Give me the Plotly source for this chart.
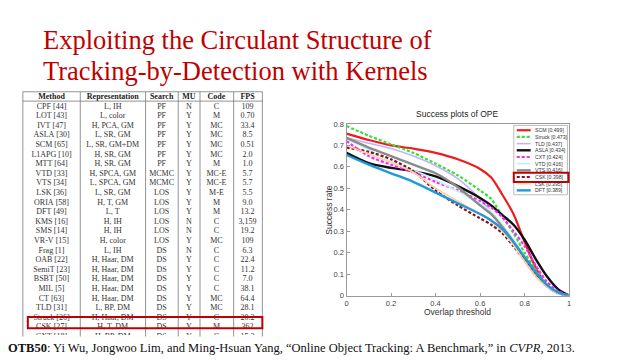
import plotly.graph_objects as go

W, H = 640, 360


def px(x):
    return x / W


def py(y):
    return 1 - y / H


# ---------------- data: table ----------------
headers = ["Method", "Representation", "Search", "MU", "Code", "FPS"]
methods = ["CPF [44]", "LOT [43]", "IVT [47]", "ASLA [30]", "SCM [65]", "L1APG [10]", "MTT [64]",
           "VTD [33]", "VTS [34]", "LSK [36]", "ORIA [58]", "DFT [49]", "KMS [16]", "SMS [14]",
           "VR-V [15]", "Frag [1]", "OAB [22]", "SemiT [23]", "BSBT [50]", "MIL [5]", "CT [63]",
           "TLD [31]", "Struck [26]", "CSK [27]", "CXT [18]"]
representations = ["L, IH", "L, color", "H, PCA, GM", "L, SR, GM", "L, SR, GM+DM", "H, SR, GM",
                   "H, SR, GM", "H, SPCA, GM", "L, SPCA, GM", "L, SR, GM", "H, T, GM", "L, T",
                   "H, IH", "H, IH", "H, color", "L, IH", "H, Haar, DM", "H, Haar, DM",
                   "H, Haar, DM", "H, Haar, DM", "H, Haar, DM", "L, BP, DM", "H, Haar, DM",
                   "H, T, DM", "H, BP, DM"]
searches = ["PF", "PF", "PF", "PF", "PF", "PF", "PF", "MCMC", "MCMC", "LOS", "LOS", "LOS", "LOS",
            "LOS", "LOS", "DS", "DS", "DS", "DS", "DS", "DS", "DS", "DS", "DS", "DS"]
mus = ["N", "Y", "Y", "Y", "Y", "Y", "Y", "Y", "Y", "Y", "Y", "Y", "N", "N", "Y", "N", "Y", "Y",
       "Y", "Y", "Y", "Y", "Y", "Y", "Y"]
codes = ["C", "M", "MC", "MC", "MC", "MC", "M", "MC-E", "MC-E", "M-E", "M", "M", "C", "C", "MC",
         "C", "C", "C", "C", "C", "MC", "MC", "C", "M", "C"]
fps = ["109", "0.70", "33.4", "8.5", "0.51", "2.0", "1.0", "5.7", "5.7", "5.5", "9.0", "13.2",
       "3,159", "19.2", "109", "6.3", "22.4", "11.2", "7.0", "38.1", "64.4", "28.1", "20.2",
       "362", "15.3"]
highlight_method = "CSK [27]"

# ---------------- data: success plot ----------------
thresholds = [0, 0.1, 0.2, 0.3, 0.4, 0.5, 0.6, 0.65, 0.7, 0.75, 0.8, 0.85, 0.9, 0.95, 1.0]
tracker_names = ["SCM", "Struck", "TLD", "ASLA", "CXT", "VTD", "VTS", "CSK", "LSK", "DFT"]
tracker_scores = ["0.499", "0.473", "0.437", "0.434", "0.424", "0.416", "0.416", "0.398", "0.395", "0.389"]
scm = [0.755, 0.725, 0.70, 0.685, 0.665, 0.635, 0.59, 0.55, 0.47, 0.38, 0.25, 0.13, 0.045, 0.012, 0.0]
struck = [0.79, 0.745, 0.705, 0.665, 0.615, 0.56, 0.49, 0.45, 0.37, 0.29, 0.20, 0.12, 0.055, 0.018, 0.0]
tld = [0.735, 0.71, 0.685, 0.65, 0.605, 0.545, 0.45, 0.39, 0.32, 0.24, 0.16, 0.09, 0.04, 0.01, 0.0]
asla = [0.665, 0.617, 0.595, 0.58, 0.555, 0.51, 0.455, 0.42, 0.375, 0.33, 0.26, 0.17, 0.09, 0.03, 0.0]
cxt = [0.72, 0.65, 0.61, 0.575, 0.53, 0.49, 0.44, 0.41, 0.365, 0.30, 0.23, 0.14, 0.065, 0.02, 0.0]
vtd = [0.73, 0.68, 0.625, 0.585, 0.54, 0.485, 0.43, 0.39, 0.33, 0.26, 0.18, 0.10, 0.045, 0.012, 0.0]
vts = [0.735, 0.69, 0.65, 0.61, 0.57, 0.505, 0.42, 0.38, 0.32, 0.25, 0.17, 0.10, 0.045, 0.012, 0.0]
csk = [0.69, 0.67, 0.635, 0.58, 0.49, 0.42, 0.36, 0.33, 0.29, 0.23, 0.165, 0.095, 0.045, 0.012, 0.0]
lsk = [0.70, 0.66, 0.62, 0.575, 0.50, 0.44, 0.38, 0.345, 0.30, 0.235, 0.16, 0.09, 0.04, 0.01, 0.0]
dft = [0.655, 0.61, 0.57, 0.53, 0.48, 0.43, 0.38, 0.35, 0.31, 0.25, 0.18, 0.11, 0.05, 0.015, 0.0]
series = [scm, struck, tld, asla, cxt, vtd, vts, csk, lsk, dft]
highlight_tracker = "CSK"

x_ticks = [0, 0.2, 0.4, 0.6, 0.8, 1]
y_ticks = [0, 0.1, 0.2, 0.3, 0.4, 0.5, 0.6, 0.7, 0.8]

# ---------------- styles ----------------
line_colors = ["#ee1c1c", "#33e033", "#c3b0ff", "#111111", "#ff22ff", "#bff3f7", "#8a8a8a",
               "#861020", "#ffcfa6", "#1f9ad8"]
line_widths = [2.2, 2.2, 1.6, 2.4, 2.2, 1.6, 2.4, 2.2, 1.6, 2.4]
line_dashes = ["solid", "3px,2px", "solid", "solid", "3px,2px", "solid", "solid", "3px,2px",
               "solid", "solid"]
RED = "#c00000"
SERIF = "Liberation Serif, Times New Roman, serif"
SANS = "Liberation Sans, Arial, sans-serif"

fig = go.Figure()

# ---------------- table ----------------
NB = "\u00a0"


def nb(s):
    return s.replace(" ", NB)


colw = [58, 66, 33, 22, 34, 29]
TX0, TX1 = 21, 262
TTOP, TBOT = 90, 340
ROWH = 9.6
TEXT_SHIFT = 7
cols = [methods, representations, searches, mus, codes, fps]
fig.add_trace(go.Table(
    domain=dict(x=[px(TX0), px(TX1)], y=[py(TBOT), py(TTOP - TEXT_SHIFT)]),
    columnwidth=colw,
    header=dict(values=[nb(h) for h in headers], height=ROWH, align="center",
                font=dict(family=SERIF, size=8, color="#222222", weight="bold"),
                fill_color="rgba(0,0,0,0)", line=dict(color="rgba(0,0,0,0)", width=0)),
    cells=dict(values=[[nb(v) for v in c] for c in cols], height=ROWH, align="center",
               font=dict(family=SERIF, size=8, color="#333333"),
               fill_color="rgba(0,0,0,0)", line=dict(color="rgba(0,0,0,0)", width=0)),
))

shapes = []
tline = dict(color="#777777", width=0.8)
shapes.append(dict(type="rect", xref="paper", yref="paper", x0=px(TX0), x1=px(TX1),
                   y0=py(TTOP), y1=py(TBOT + 2), line=tline))
shapes.append(dict(type="line", xref="paper", yref="paper", x0=px(TX0), x1=px(TX1),
                   y0=py(TTOP + ROWH), y1=py(TTOP + ROWH), line=tline))
scale = (TX1 - TX0) / sum(colw)
acc = TX0
for w in colw[:-1]:
    acc += w * scale
    shapes.append(dict(type="line", xref="paper", yref="paper", x0=px(acc), x1=px(acc),
                       y0=py(TTOP), y1=py(TBOT + 2), line=tline))
hi = methods.index(highlight_method)
r_top = TTOP + ROWH * (1 + hi)
shapes.append(dict(type="rect", xref="paper", yref="paper", x0=px(TX0 + 5), x1=px(TX1),
                   y0=py(r_top + 0.5), y1=py(r_top + ROWH + 2.5), line=dict(color=RED, width=2)))

# ---------------- success plot ----------------
for name, vals, c, w, d in zip(tracker_names, series, line_colors, line_widths, line_dashes):
    fig.add_trace(go.Scatter(x=thresholds, y=vals, mode="lines", name=name,
                             line=dict(color=c, width=w, dash=d, shape="spline", smoothing=0.8),
                             showlegend=False))

AX0, AX1 = 346.7, 570.7
AY0, AY1 = 299, 123
axis_common = dict(showline=True, mirror=True, linecolor="#9a9a9a", linewidth=1,
                   ticks="inside", ticklen=3, tickcolor="#9a9a9a", showgrid=False,
                   zeroline=False, tickfont=dict(family=SANS, size=7.5, color="#444444"))
fig.update_xaxes(domain=[px(AX0), px(AX1)], range=[0, 1], tickvals=x_ticks,
                 ticktext=[f"{v:g}" for v in x_ticks], **axis_common)
fig.update_yaxes(domain=[py(AY0), py(AY1)], range=[0, 0.8], tickvals=y_ticks,
                 ticktext=[f"{v:g}" for v in y_ticks], **axis_common)

# manual legend
LX0, LX1 = 515, 569
LY0 = 129.5
LDY = 6.85
shapes.append(dict(type="rect", xref="paper", yref="paper", x0=px(LX0), x1=px(LX1),
                   y0=py(LY0 - 5), y1=py(LY0 + LDY * 9 + 4.5), fillcolor="white",
                   line=dict(color="#aaaaaa", width=0.8)))
annotations = []
for i, (name, sc, c, w, d) in enumerate(zip(tracker_names, tracker_scores, line_colors,
                                            line_widths, line_dashes)):
    yy = LY0 + LDY * i
    shapes.append(dict(type="line", xref="paper", yref="paper", x0=px(LX0 + 3), x1=px(LX0 + 17),
                       y0=py(yy), y1=py(yy), line=dict(color=c, width=w, dash=d)))
    annotations.append(dict(x=px(LX0 + 19), y=py(yy), xref="paper", yref="paper",
                            text=f"{name} [{sc}]", showarrow=False, xanchor="left",
                            yanchor="middle", font=dict(family=SANS, size=5.2, color="#333333")))
    if name == highlight_tracker:
        shapes.append(dict(type="rect", xref="paper", yref="paper", x0=px(LX0), x1=px(LX1 + 1),
                           y0=py(yy - 4.5), y1=py(yy + 5), line=dict(color=RED, width=2)))

annotations.append(dict(x=px((AX0 + AX1) / 2), y=py(113), xref="paper", yref="paper",
                        xanchor="center", yanchor="middle",
                        text="Success plots of OPE", showarrow=False,
                        font=dict(family=SANS, size=8.5, color="#222222")))
annotations.append(dict(x=px((AX0 + AX1) / 2), y=py(316), xref="paper", yref="paper",
                        xanchor="center", yanchor="middle",
                        text="Overlap threshold", showarrow=False,
                        font=dict(family=SANS, size=8.5, color="#333333")))
annotations.append(dict(x=px(329), y=py(211), xref="paper", yref="paper",
                        xanchor="center", yanchor="middle",
                        text="Success rate", showarrow=False, textangle=-90,
                        font=dict(family=SANS, size=8.5, color="#333333")))

# title
annotations.append(dict(x=px(39), y=py(37), xref="paper", yref="paper", xanchor="left",
                        yanchor="middle", text="Exploiting the Circulant Structure of",
                        showarrow=False, font=dict(family=SERIF, size=26.5, color=RED)))
annotations.append(dict(x=px(39), y=py(69), xref="paper", yref="paper", xanchor="left",
                        yanchor="middle", text="Tracking-by-Detection with Kernels",
                        showarrow=False, font=dict(family=SERIF, size=26.5, color=RED)))

# caption (white band over the table bottom)
shapes.append(dict(type="rect", xref="paper", yref="paper", x0=0, x1=px(300), y0=0,
                   y1=py(341), fillcolor="white", line=dict(width=0), layer="above"))
annotations.append(dict(x=px(4), y=py(353), xref="paper", yref="paper", xanchor="left",
                        yanchor="middle",
                        text="<b>OTB50</b>: Yi Wu, Jongwoo Lim, and Ming-Hsuan Yang, "
                             "\u201cOnline Object Tracking: A Benchmark,\u201d in <i>CVPR</i>, 2013.",
                        showarrow=False, font=dict(family=SERIF, size=12.5, color="#111111")))

fig.update_layout(width=W, height=H, margin=dict(l=0, r=0, t=0, b=0),
                  paper_bgcolor="white", plot_bgcolor="white", showlegend=False,
                  shapes=shapes, annotations=annotations)

fig.write_html("out.html")
